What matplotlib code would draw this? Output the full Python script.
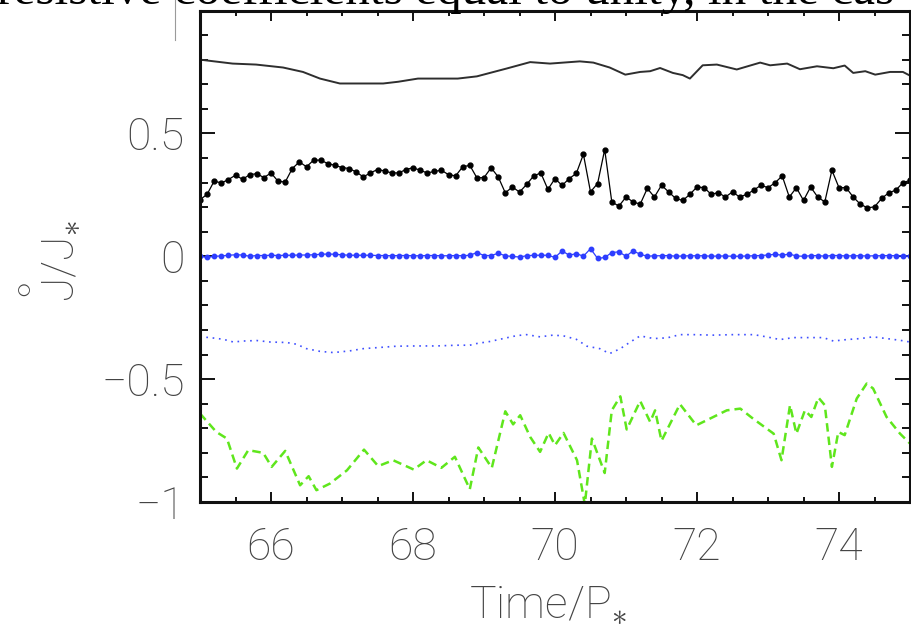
import numpy as np
import matplotlib
matplotlib.use("Agg")
import matplotlib.pyplot as plt
from matplotlib.lines import Line2D
from matplotlib.ticker import MultipleLocator

plt.rcParams['font.family'] = ['Roboto', 'DejaVu Sans']
plt.rcParams['font.weight'] = 'light'
plt.rcParams['axes.labelweight'] = 'light'
plt.rcParams['mathtext.fontset'] = 'custom'
plt.rcParams['mathtext.rm'] = 'Roboto:light'
plt.rcParams['mathtext.it'] = 'Roboto:light'
plt.rcParams['mathtext.sf'] = 'Roboto:light'
plt.rcParams['mathtext.default'] = 'rm'

# top curve (thin solid)
t1 = [65.0, 65.46, 65.79, 66.17, 66.45, 66.69, 66.97, 67.58, 67.79, 68.07,
      68.63, 68.90, 69.32, 69.65, 69.93, 70.07, 70.35, 70.54, 70.77, 70.99,
      71.20, 71.34, 71.48, 71.66, 71.80, 71.90, 72.08, 72.28, 72.56, 72.89,
      73.03, 73.27, 73.45, 73.69, 73.92, 74.08, 74.20, 74.37, 74.51, 74.72,
      74.90, 75.0]
v1 = [0.800, 0.784, 0.780, 0.768, 0.750, 0.723, 0.703, 0.703, 0.710, 0.723,
      0.723, 0.732, 0.764, 0.790, 0.784, 0.787, 0.793, 0.788, 0.768, 0.739,
      0.750, 0.753, 0.766, 0.746, 0.737, 0.723, 0.777, 0.780, 0.760, 0.788,
      0.777, 0.784, 0.761, 0.773, 0.765, 0.776, 0.746, 0.753, 0.739, 0.750,
      0.750, 0.735]

# sampled every 0.1 P*
t_grid = np.round(np.arange(650, 751) / 10.0, 1)
v2 = [0.230, 0.252, 0.306, 0.298, 0.312, 0.330, 0.313, 0.332, 0.336, 0.320,
      0.339, 0.305, 0.302, 0.357, 0.384, 0.364, 0.391, 0.391, 0.377, 0.370,
      0.361, 0.357, 0.343, 0.323, 0.339, 0.353, 0.347, 0.339, 0.339, 0.353,
      0.360, 0.350, 0.339, 0.345, 0.350, 0.332, 0.327, 0.364, 0.370, 0.319,
      0.320, 0.360, 0.323, 0.258, 0.282, 0.261, 0.292, 0.327, 0.339, 0.272,
      0.316, 0.288, 0.316, 0.337, 0.415, 0.262, 0.296, 0.434, 0.221, 0.204,
      0.241, 0.221, 0.212, 0.276, 0.241, 0.289, 0.262, 0.235, 0.227, 0.252,
      0.282, 0.279, 0.252, 0.259, 0.241, 0.262, 0.241, 0.252, 0.269, 0.289,
      0.279, 0.299, 0.327, 0.241, 0.279, 0.227, 0.282, 0.241, 0.221, 0.350,
      0.279, 0.279, 0.241, 0.212, 0.197, 0.201, 0.235, 0.258, 0.269, 0.299,
      0.309]
v3 = [0.000, -0.005, 0.000, 0.001, 0.004, 0.006, 0.005, 0.000, 0.003, 0.003,
      0.004, 0.003, 0.004, 0.004, 0.005, 0.005, 0.006, 0.008, 0.009, 0.008,
      0.006, 0.004, 0.004, 0.004, 0.004, 0.003, 0.003, 0.002, 0.003, 0.003,
      0.002, 0.002, 0.003, 0.003, 0.002, 0.002, 0.003, 0.002, 0.004, 0.015,
      0.003, 0.003, 0.012, 0.002, -0.001, -0.003, 0.002, 0.004, 0.004, 0.004,
      -0.005, 0.022, 0.004, 0.011, 0.000, 0.031, -0.009, -0.005, 0.015, 0.018,
      0.000, 0.022, 0.008, 0.000, 0.002, 0.002, 0.003, 0.000, 0.001, 0.002,
      0.002, 0.002, 0.000, 0.001, 0.001, 0.000, 0.000, 0.001, 0.002, 0.003,
      0.005, 0.008, 0.004, 0.009, 0.001, 0.000, 0.002, 0.003, 0.000, 0.003,
      0.003, 0.001, 0.002, 0.002, 0.001, 0.002, 0.002, 0.003, 0.002, 0.002,
      0.000]

# blue dotted
t4 = [65.0, 65.14, 65.33, 65.47, 65.61, 65.80, 65.99, 66.22, 66.36, 66.50,
      66.69, 66.88, 67.11, 67.30, 67.49, 67.77, 68.05, 68.33, 68.62, 68.80,
      68.90, 69.08, 69.27, 69.46, 69.60, 69.79, 69.97, 70.12, 70.30, 70.45,
      70.63, 70.77, 70.92, 71.06, 71.20, 71.39, 71.58, 71.76, 71.95, 72.23,
      72.51, 72.80, 72.98, 73.17, 73.36, 73.54, 73.78, 73.92, 74.11, 74.30,
      74.48, 74.67, 74.86, 75.0]
v4 = [-0.328, -0.331, -0.338, -0.349, -0.345, -0.343, -0.349, -0.351, -0.358, -0.376,
      -0.387, -0.392, -0.385, -0.376, -0.372, -0.366, -0.365, -0.365, -0.362, -0.362,
      -0.355, -0.347, -0.335, -0.323, -0.319, -0.328, -0.321, -0.324, -0.338, -0.366,
      -0.376, -0.396, -0.376, -0.349, -0.324, -0.335, -0.332, -0.319, -0.319, -0.321,
      -0.319, -0.319, -0.328, -0.339, -0.331, -0.331, -0.331, -0.345, -0.339, -0.335,
      -0.328, -0.335, -0.342, -0.349]

# green dashed
t5 = [65.0, 65.23, 65.38, 65.52, 65.68, 65.89, 66.01, 66.20, 66.41, 66.53,
      66.64, 66.83, 67.07, 67.31, 67.51, 67.72, 68.01, 68.19, 68.40, 68.59,
      68.80, 68.92, 69.11, 69.30, 69.41, 69.51, 69.65, 69.79, 69.91, 70.00,
      70.12, 70.31, 70.42, 70.52, 70.70, 70.80, 70.92, 71.01, 71.20, 71.34,
      71.41, 71.50, 71.76, 71.99, 72.23, 72.42, 72.61, 72.79, 72.98, 73.08,
      73.19, 73.31, 73.40, 73.52, 73.61, 73.71, 73.80, 73.90, 73.99, 74.08,
      74.25, 74.39, 74.48, 74.67, 74.86, 75.0]
v5 = [-0.640, -0.715, -0.742, -0.864, -0.789, -0.800, -0.857, -0.792, -0.932, -0.895,
      -0.952, -0.925, -0.871, -0.787, -0.854, -0.830, -0.868, -0.830, -0.861, -0.816,
      -0.948, -0.778, -0.861, -0.631, -0.684, -0.647, -0.735, -0.796, -0.719, -0.769,
      -0.719, -0.830, -1.010, -0.742, -0.882, -0.627, -0.570, -0.705, -0.589, -0.674,
      -0.627, -0.751, -0.602, -0.688, -0.654, -0.627, -0.620, -0.661, -0.701, -0.722,
      -0.830, -0.606, -0.722, -0.627, -0.654, -0.575, -0.606, -0.857, -0.715, -0.728,
      -0.579, -0.518, -0.538, -0.654, -0.722, -0.762]

xticks = [66, 68, 70, 72, 74]
yticks = [-1, -0.5, 0, 0.5]
ytick_labels = ['\u22121', '\u22120.5', '0', '0.5']

txt_col = '#444444'

fig = plt.figure(figsize=(9.11, 6.40), dpi=100)
ax = fig.add_axes([200/911, 1 - 502/640, 710/911, 491.5/640])

ax.plot(t1, v1, color='#2e2e2e', lw=1.4)
ax.plot(t_grid, v2, color='black', lw=0.9, marker='o', ms=3.5, mec='black', mfc='black')
ax.plot(t_grid, v3, color='#2d3dff', lw=0.9, marker='o', ms=3.2, mec='#2d3dff', mfc='#2d3dff')
ax.plot(t4, v4, color='#3f50ff', lw=1.2, linestyle=(0, (1, 2.8)))
ax.plot(t5, v5, color='#5fe61c', lw=1.8, linestyle=(0, (3.4, 2.0)))

ax.set_xlim(65, 75)
ax.set_ylim(-1, 1)
ax.set_xticks(xticks)
ax.set_yticks(yticks)
ax.set_yticklabels(ytick_labels)
ax.xaxis.set_minor_locator(MultipleLocator(0.5))
ax.yaxis.set_minor_locator(MultipleLocator(0.1))

for s in ax.spines.values():
    s.set_linewidth(2.2)
    s.set_color('#111111')

ax.tick_params(axis='both', which='both', direction='in', top=True, right=True,
               width=1.4, color='#111111', labelcolor=txt_col, labelsize=32)
ax.tick_params(axis='x', which='major', length=7.2, pad=18)
ax.tick_params(axis='x', which='minor', length=3.8)
ax.tick_params(axis='y', which='major', length=10.8, pad=11)
ax.tick_params(axis='y', which='minor', length=5.8)

ax.set_xlabel(r'Time/P$_{\ast}$', fontsize=32, color=txt_col)
ax.xaxis.set_label_coords(0.49, -0.168)
ax.set_ylabel(r'$\overset{\circ}{J}/J_{\ast}$', fontsize=32, color=txt_col)
ax.yaxis.set_label_coords(-0.165, 0.49)

# cut-off line of caption text above the panel
fig.text(-0.003, 1 - 4/640, 'resistive coefficients equal to unity, in the cas',
         family='Liberation Serif', fontsize=35.5, color='black',
         ha='left', va='baseline', fontweight='normal')
fig.add_artist(Line2D([175/911, 175/911], [1, 1 - 40/640], color='#9a9a9a', lw=0.8))

fig.savefig('out.png', dpi=100)
